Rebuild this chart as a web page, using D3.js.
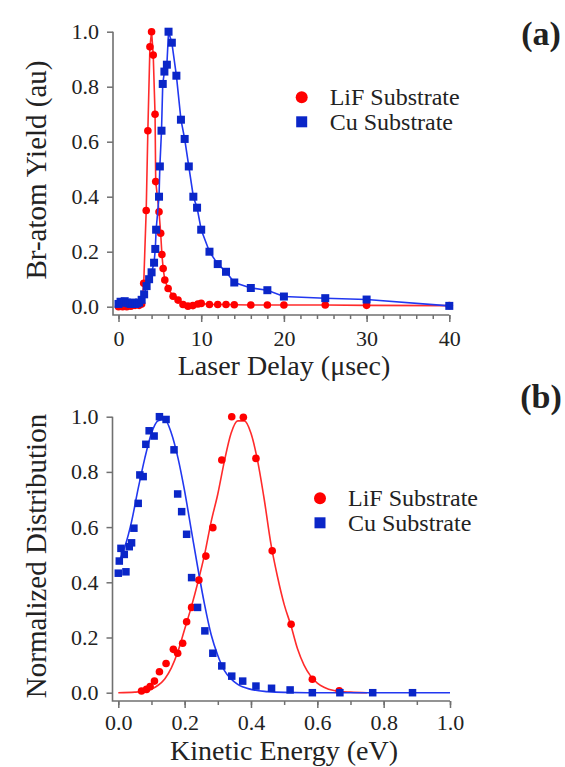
<!DOCTYPE html>
<html>
<head>
<meta charset="utf-8">
<script src="https://cdn.jsdelivr.net/npm/d3@7"></script>
<style>
  body { margin: 0; background: #fff; }
  text { font-family: "Liberation Serif", "Times New Roman", serif; fill: #222; }
</style>
</head>
<body>
<div id="chart-area"></div>
<script>
// ---- (a) Br-atom yield vs laser delay ----
const lifDelay = [0, 0.5, 1.0, 1.5, 2.0, 2.5, 2.8, 3.05, 3.35, 3.55, 3.8, 4.0, 4.2, 4.42, 4.5, 4.9, 5.1, 5.25, 5.4, 5.6, 6.0, 6.6, 7.2, 7.8, 8.4, 9.0, 9.6, 10, 11, 12, 13, 14, 16, 18, 20, 25, 30, 40]
const lifYield = [0.0, 0.0, 0.0, 0.002, 0.005, 0.005, 0.01, 0.085, 0.35, 0.64, 0.945, 1.0, 0.915, 0.70, 0.455, 0.345, 0.267, 0.19, 0.139, 0.097, 0.066, 0.038, 0.024, 0.008, 0.002, 0.004, 0.01, 0.012, 0.008, 0.008, 0.008, 0.007, 0.006, 0.006, 0.006, 0.006, 0.005, 0.004]

const cuDelay = [0, 0.25, 0.5, 0.75, 1.0, 1.25, 1.5, 1.75, 2.0, 2.25, 2.5, 2.8, 3.1, 3.4, 3.7, 4.0, 4.3, 4.45, 4.55, 4.9, 5.0, 5.2, 5.35, 5.55, 5.85, 6.05, 6.45, 7.0, 7.55, 8.0, 8.5, 9.05, 9.5, 10.0, 11.0, 12, 13, 14, 16, 18, 20, 25, 30, 40]
const cuYield = [0.01, 0.018, 0.015, 0.02, 0.015, 0.012, 0.01, 0.015, 0.01, 0.012, 0.015, 0.025, 0.045, 0.075, 0.1, 0.125, 0.16, 0.21, 0.28, 0.40, 0.51, 0.64, 0.81, 0.855, 0.88, 1.0, 0.96, 0.84, 0.68, 0.61, 0.51, 0.40, 0.36, 0.28, 0.20, 0.155, 0.127, 0.088, 0.068, 0.06, 0.037, 0.031, 0.026, 0.003]

const delayTicks = [0, 10, 20, 30, 40]
const delayMinorTicks = d3.range(0, 41, 2)
const yieldTicks = [0, 0.2, 0.4, 0.6, 0.8, 1.0]

// ---- (b) kinetic energy distributions ----
const lifEnergy = [0.07, 0.085, 0.096, 0.109, 0.124, 0.144, 0.166, 0.179, 0.194, 0.206, 0.221, 0.243, 0.264, 0.285, 0.312, 0.342, 0.377, 0.415, 0.464, 0.521, 0.585, 0.666]
const lifDist = [0.006, 0.012, 0.022, 0.042, 0.076, 0.106, 0.157, 0.143, 0.179, 0.257, 0.309, 0.408, 0.495, 0.598, 0.843, 1.0, 0.998, 0.849, 0.514, 0.248, 0.049, 0.007]

const cuEnergy = [0.0, 0.003, 0.008, 0.018, 0.023, 0.033, 0.04, 0.047, 0.06, 0.065, 0.075, 0.083, 0.093, 0.108, 0.124, 0.144, 0.168, 0.179, 0.191, 0.206, 0.221, 0.239, 0.261, 0.285, 0.312, 0.342, 0.375, 0.415, 0.462, 0.518, 0.585, 0.668, 0.767, 0.887]
const cuDist = [0.433, 0.477, 0.523, 0.501, 0.438, 0.529, 0.543, 0.596, 0.686, 0.789, 0.783, 0.90, 0.949, 0.93, 1.0, 0.99, 0.88, 0.72, 0.656, 0.574, 0.417, 0.309, 0.224, 0.143, 0.097, 0.06, 0.042, 0.024, 0.016, 0.01, 0.0, 0.0, 0.0, 0.0]

// fitted curves
const lifFitEnergy = [0.0, 0.05, 0.08, 0.10, 0.12, 0.14, 0.16, 0.18, 0.20, 0.22, 0.24, 0.26, 0.28, 0.30, 0.32, 0.34, 0.36, 0.38, 0.40, 0.42, 0.44, 0.46, 0.48, 0.50, 0.52, 0.54, 0.56, 0.58, 0.60, 0.62, 0.65, 0.70, 0.75]
const lifFitDist = [0.0, 0.002, 0.006, 0.013, 0.027, 0.05, 0.09, 0.15, 0.23, 0.31, 0.40, 0.50, 0.62, 0.72, 0.84, 0.94, 0.985, 0.985, 0.94, 0.84, 0.70, 0.54, 0.42, 0.32, 0.245, 0.16, 0.10, 0.06, 0.035, 0.02, 0.008, 0.002, 0.0]
const cuFitEnergy = [0.0, 0.02, 0.04, 0.06, 0.08, 0.10, 0.12, 0.14, 0.16, 0.18, 0.20, 0.22, 0.24, 0.26, 0.28, 0.30, 0.32, 0.34, 0.36, 0.40, 0.45, 0.50, 0.60, 1.0]
const cuFitDist = [0.47, 0.53, 0.62, 0.74, 0.85, 0.94, 0.985, 0.99, 0.94, 0.85, 0.73, 0.59, 0.45, 0.32, 0.21, 0.135, 0.08, 0.05, 0.03, 0.012, 0.004, 0.001, 0.0, 0.0]

const energyTicks = [0, 0.2, 0.4, 0.6, 0.8, 1.0]
const energyMinorTicks = d3.range(0, 1.01, 0.1)
const distTicks = [0, 0.2, 0.4, 0.6, 0.8, 1.0]

const seriesNames = ["LiF Substrate", "Cu Substrate"]

const RED = "#ff0000", RED_LINE = "#ff2b2b"
const BLUE = "#0a26c8", BLUE_LINE = "#2238f0"
const AXIS = "#707070"

const svg = d3.select("#chart-area").append("svg")
  .attr("width", 565)
  .attr("height", 767)

function drawAxes(p) {
  const g = svg.append("g")
  // minor x ticks
  g.append("g")
    .attr("transform", `translate(0,${p.axisY})`)
    .call(d3.axisBottom(p.x).tickValues(p.xMinor).tickSize(4).tickFormat(""))
  // major x ticks
  g.append("g")
    .attr("transform", `translate(0,${p.axisY})`)
    .call(d3.axisBottom(p.x).tickValues(p.xTicks).tickSize(7).tickPadding(p.xPad).tickFormat(p.xFormat))
  g.append("g")
    .attr("transform", `translate(${p.axisX},0)`)
    .call(d3.axisLeft(p.y).tickValues(p.yTicks).tickSize(6).tickPadding(8).tickFormat(d3.format(".1f")))
  g.selectAll(".domain").remove()
  g.selectAll(".tick line").attr("stroke", AXIS).attr("stroke-width", 1.5)
  g.selectAll(".tick text").attr("font-family", "'Liberation Serif', serif").attr("font-size", 22).attr("fill", "#222")
  g.append("path")
    .attr("fill", "none").attr("stroke", AXIS).attr("stroke-width", 1.6)
    .attr("d", `M${p.axisX},${p.y(1)}V${p.axisY}H${p.x.range()[1]}`)

  svg.append("text")
    .attr("x", 284).attr("y", p.xTitleY)
    .attr("text-anchor", "middle").attr("font-size", 28)
    .text(p.xTitle)
  svg.append("text")
    .attr("transform", `translate(46,${p.yTitleY}) rotate(-90)`)
    .attr("text-anchor", "middle").attr("font-size", 29)
    .text(p.yTitle)
  svg.append("text")
    .attr("x", 541).attr("y", p.tagY)
    .attr("text-anchor", "middle").attr("font-size", 34).attr("font-weight", "bold")
    .attr("fill", "#111")
    .text(p.tag)
}

function drawLegend(lx, ly) {
  const g = svg.append("g")
  g.append("circle").attr("cx", lx).attr("cy", ly).attr("r", 6).attr("fill", RED)
  g.append("rect").attr("x", lx - 5.5).attr("y", ly + 24.5 - 5.5).attr("width", 11).attr("height", 11).attr("fill", BLUE)
  g.selectAll("text").data(seriesNames).join("text")
    .attr("x", lx + 28).attr("y", (d, i) => ly + i * 24.5 + 8)
    .attr("font-size", 24)
    .text(d => d)
}

function drawCircles(x, y, xs, ys, r) {
  svg.append("g").selectAll("circle").data(xs).join("circle")
    .attr("cx", d => x(d)).attr("cy", (d, i) => y(ys[i]))
    .attr("r", r).attr("fill", RED)
}

function drawSquares(x, y, xs, ys, s) {
  svg.append("g").selectAll("rect").data(xs).join("rect")
    .attr("x", d => x(d) - s / 2).attr("y", (d, i) => y(ys[i]) - s / 2)
    .attr("width", s).attr("height", s).attr("fill", BLUE)
}

function drawLine(x, y, xs, ys, color, curve) {
  const line = d3.line().x(d => x(d[0])).y(d => y(d[1]))
  if (curve) line.curve(curve)
  svg.append("path")
    .attr("fill", "none").attr("stroke", color).attr("stroke-width", 1.6)
    .attr("d", line(d3.zip(xs, ys)))
}

// ---- panel (a) ----
const xA = d3.scaleLinear().domain([0, 40]).range([118.5, 449.3])
const yA = d3.scaleLinear().domain([0, 1]).range([306.7, 31.7])

drawAxes({
  x: xA, y: yA, axisX: 113, axisY: 315,
  xTicks: delayTicks, xMinor: delayMinorTicks, yTicks: yieldTicks,
  xFormat: d3.format("d"), xPad: 8,
  xTitle: "Laser Delay (\u03bcsec)", xTitleY: 375,
  yTitle: "Br-atom Yield (au)", yTitleY: 170,
  tag: "(a)", tagY: 45
})

drawLine(xA, yA, lifDelay, lifYield, RED_LINE)
drawCircles(xA, yA, lifDelay, lifYield, 3.8)
drawLine(xA, yA, cuDelay, cuYield, BLUE_LINE)
drawSquares(xA, yA, cuDelay, cuYield, 8)
drawLegend(301.7, 97.3)

// ---- panel (b) ----
const xB = d3.scaleLinear().domain([0, 1]).range([118.3, 450])
const yB = d3.scaleLinear().domain([0, 1]).range([692.7, 416.7])

drawAxes({
  x: xB, y: yB, axisX: 112.5, axisY: 701,
  xTicks: energyTicks, xMinor: energyMinorTicks, yTicks: distTicks,
  xFormat: d3.format(".1f"), xPad: 6,
  xTitle: "Kinetic Energy (eV)", xTitleY: 760,
  yTitle: "Normalized Distribution", yTitleY: 556,
  tag: "(b)", tagY: 408
})

drawLine(xB, yB, lifFitEnergy, lifFitDist, RED_LINE, d3.curveMonotoneX)
drawLine(xB, yB, cuFitEnergy, cuFitDist, BLUE_LINE, d3.curveMonotoneX)
drawCircles(xB, yB, lifEnergy, lifDist, 3.8)
drawSquares(xB, yB, cuEnergy, cuDist, 7.5)
drawLegend(320, 498.3)
</script>
</body>
</html>
